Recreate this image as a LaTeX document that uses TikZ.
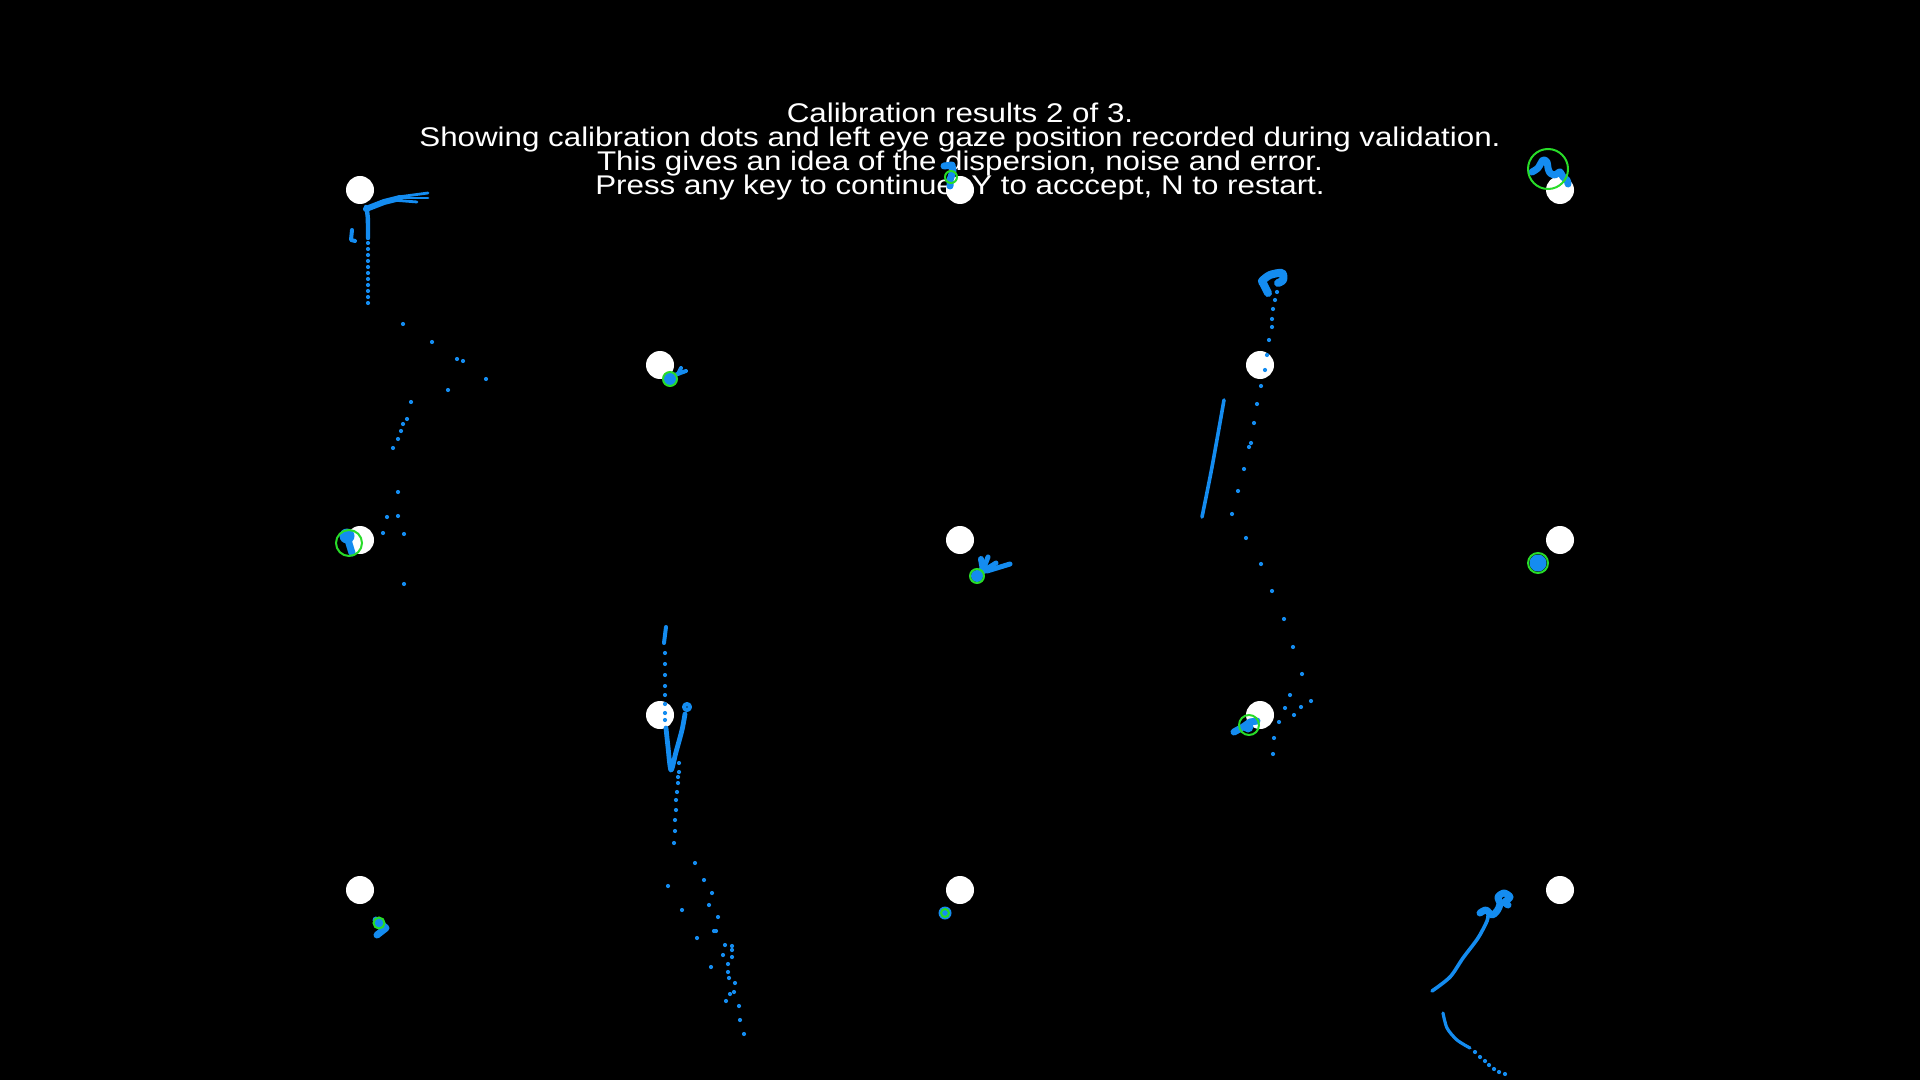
\documentclass[tikz,border=0pt]{standalone}
\usepackage{fontspec}
\usepackage{tikz}
\usetikzlibrary{positioning}
\usepackage{xcolor}
\newfontfamily\capfont[FakeStretch=1.16]{Liberation Sans}
\definecolor{gazeblue}{RGB}{20,140,240}
\definecolor{ringgreen}{RGB}{40,220,40}

\begin{document}
\begin{tikzpicture}[x=0.5pt,y=-0.5pt,
	  every node/.style={align=center,text=white,draw=none},
	  caption/.style={anchor=base,inner sep=0pt,font=\capfont\fontsize{13.5pt}{12pt}\selectfont},
	  calibdot/.style={circle,fill=white,minimum size=14pt,inner sep=0pt},
	  gaze/.style={draw=gazeblue,line width=1.5pt,line cap=round,line join=round},
	  gazept/.style={fill=gazeblue},
	  ring/.style={draw=ringgreen,line width=1pt}]

	  % screen
	  \fill[black] (0,0) rectangle (1920,1080);

	  % Instructions
	  \node[caption] (heading) at (960,123) {Calibration results 2 of 3.};
	  \node[caption] (showing) at (960,147) {Showing calibration dots and left eye gaze position recorded during validation.};
	  \node[caption] (gives) at (960,171) {This gives an idea of the dispersion, noise and error.};
	  \node[caption] (press) at (960,195) {Press any key to continue, Y to acccept, N to restart.};

	  % Calibration dots
	  \foreach \px/\py [count=\i] in {360/190,960/190,1560/190,660/365,1260/365,360/540,960/540,1560/540,660/715,1260/715,360/890,960/890,1560/890}
	    \node[calibdot] (cal\i) at (\px,\py) {};

	  % Gaze near top left dot
	  \draw[gaze,line width=3pt] (366,209) -- (384,202) -- (400,198);
	  \draw[gaze,line width=1.4pt] (398,197) -- (428,193);
	  \draw[gaze,line width=1.4pt] (398,198) -- (428,198);
	  \draw[gaze,line width=1.4pt] (392,200) -- (417,202);
	  \draw[gaze,line width=2.2pt] (366,207) .. controls (368,215) .. (368,238);
	  \draw[gaze,line width=2pt] (352,230) -- (351,240) -- (355,241);
	  \foreach \gy in {243,249,255,261,267,273,279,285,291,297,303}
	    \fill[gazept] (368,\gy) circle (2.1);
	  \foreach \gx/\gy in {403/324,432/342,457/359,463/361,486/379,448/390,411/402,407/419,403/424,401/431,398/439,393/448,398/492,387/517,398/516,383/533,404/534,404/584}
	    \fill[gazept] (\gx,\gy) circle (2.1);

	  % Gaze at left middle dot
	  \fill[gazept] (347,536) circle (7.5);
	  \draw[gaze,line width=3.5pt] (348,540) -- (352,553);
	  \draw[ring] (349,543) circle (13);

	  % Gaze at top centre and top right dots
	  \draw[gaze,line width=3.5pt] (944,166) -- (952,165) -- (953,171) -- (950,180) -- (950,186);
	  \draw[ring] (951,177) circle (6);
	  \draw[gaze,line width=3.5pt] plot[smooth] coordinates {(1532,172) (1538,168) (1543,160) (1547,162) (1548,168) (1550,173) (1555,175) (1560,172) (1563,177) (1567,180) (1568,184)};
	  \draw[ring] (1548,169) circle (20);

	  % Gaze at second row
	  \fill[gazept] (670,379) circle (6.5);
	  \draw[gaze,line width=2pt] (672,376) -- (686,371);
	  \draw[gaze,line width=2pt] (678,374) -- (681,368);
	  \draw[ring] (670,379) circle (7);
	  \draw[gaze,line width=4pt] plot[smooth] coordinates {(1268,293) (1263,283) (1262,281) (1270,275) (1282,273) (1283,280) (1278,283)};
	  \foreach \gx/\gy in {1277/292,1275/300,1273/309,1272/319,1272/327,1269/340,1267/355,1265/370,1261/386,1257/404,1254/423,1251/443,1249/447,1244/469,1238/491,1232/514,1246/538,1261/564,1272/591,1284/619,1293/647,1302/674,1311/701,1301/707,1290/695,1285/708,1294/715,1279/722,1274/738,1273/754}
	    \fill[gazept] (\gx,\gy) circle (2.1);
	  \draw[gaze,line width=1.8pt] plot[smooth] coordinates {(1224,400) (1212,467) (1202,517)};

	  % Gaze at middle row
	  \draw[gaze,line width=3pt] (977,576) -- (983,570) -- (981,559);
	  \draw[gaze,line width=2.5pt] (983,570) -- (988,557);
	  \draw[gaze,line width=2.5pt] (985,570) -- (996,563);
	  \draw[gaze,line width=2.5pt] (987,571) -- (1010,564);
	  \fill[gazept] (984,569) circle (5);
	  \fill[gazept] (977,576) circle (6);
	  \draw[ring] (977,576) circle (7);
	  \fill[gazept] (1538,563) circle (8.5);
	  \draw[ring] (1538,563) circle (10);

	  % Gaze at fourth row
	  \draw[gaze,line width=2pt] (666,627) -- (664,643);
	  \foreach \gy in {653,664,675,686,695,704,713,720}
	    \fill[gazept] (665,\gy) circle (2.1);
	  \draw[gaze,line width=2.4pt] plot[smooth] coordinates {(666,728) (668,747) (671,770) (676,752) (682,730) (685,714)};
	  \draw[gaze,line width=2pt] (687,707) circle (3);
	  \foreach \gx/\gy in {679/763,679/772,678/777,678/783,677/792,676/800,676/810,675/820,675/831,674/843,695/863,704/880,712/893,709/905,718/917,668/886,682/910,697/938,714/931,716/931,725/945,732/946,723/955,732/950,732/957,728/964,711/967,728/972,729/978,735/983,734/992,730/994,726/1001,739/1006,740/1020,744/1034}
	    \fill[gazept] (\gx,\gy) circle (2.1);
	  \draw[gaze,line width=3.5pt] (1234,732) -- (1243,727) -- (1250,722) -- (1257,721);
	  \fill[gazept] (1248,727) circle (5.5);
	  \draw[ring] (1249,725) circle (10);

	  % Gaze at bottom row
	  \fill[gazept] (380,924) circle (5.5);
	  \draw[gaze,line width=3.5pt] (376,920) -- (386,928) -- (377,935);
	  \draw[ring] (379,923) circle (5.5);
	  \fill[gazept] (945,913) circle (6.5);
	  \draw[ring] (945,913) circle (4);
	  \draw[gaze,line width=1.8pt] plot[smooth] coordinates {(1432,991) (1450,977) (1463,958) (1478,938) (1487,921) (1488,914)};
	  \draw[gaze,line width=3.5pt] plot[smooth] coordinates {(1480,913) (1486,910) (1492,915) (1497,911) (1500,904) (1498,897) (1504,893) (1510,897) (1505,902) (1508,905)};
	  \draw[gaze,line width=1.6pt] plot[smooth] coordinates {(1443,1013) (1447,1028) (1457,1040) (1470,1048)};
	  \foreach \gx/\gy in {1475/1052,1480/1057,1485/1061,1489/1065,1494/1069,1499/1072,1505/1074}
	    \fill[gazept] (\gx,\gy) circle (2.1);

\end{tikzpicture}
\end{document}
